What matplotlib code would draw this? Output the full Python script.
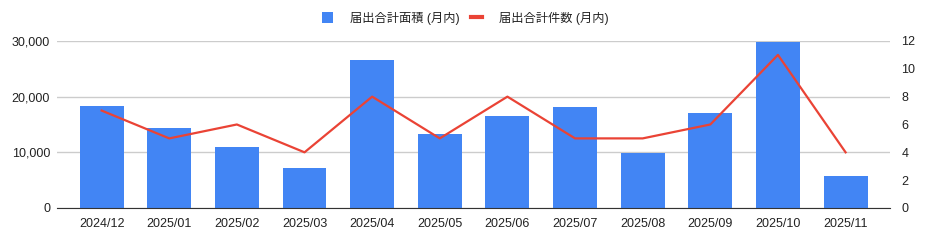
import matplotlib.pyplot as plt
from matplotlib.patches import Patch
from matplotlib.lines import Line2D
from matplotlib.ticker import FuncFormatter

# データ
months = ["2024/12", "2025/01", "2025/02", "2025/03", "2025/04", "2025/05",
          "2025/06", "2025/07", "2025/08", "2025/09", "2025/10", "2025/11"]
area = [18300, 14400, 11000, 7250, 26600, 13300, 16550, 18150, 9900, 17050, 29800, 5750]
count = [7, 5, 6, 4, 8, 5, 8, 5, 5, 6, 11, 4]

bar_label = "届出合計面積 (月内)"
line_label = "届出合計件数 (月内)"

blue = "#4285F4"
red = "#EA4335"

plt.rcParams['font.family'] = ['Liberation Sans', 'Noto Sans CJK JP', 'DejaVu Sans']

fig = plt.figure(figsize=(9.31, 2.41), dpi=100)
ax = fig.add_axes([0.0612, 0.137, 0.895, 0.693])
ax2 = ax.twinx()

x = list(range(len(months)))
ax.bar(x, area, width=0.65, color=blue, zorder=2)
ax2.plot(x, count, color=red, linewidth=1.6, zorder=3)

ax.set_xlim(-0.66, len(months) - 1 + 0.66)
ax.set_ylim(0, 30000)
ax2.set_ylim(0, 12)
ax.set_yticks([0, 10000, 20000, 30000])
ax2.set_yticks(range(0, 13, 2))
ax.yaxis.set_major_formatter(FuncFormatter(lambda v, p: f"{int(v):,}"))

ax.set_xticks(x)
ax.set_xticklabels(months)

ax.grid(axis='y', color='#cccccc', linewidth=1, zorder=0)
ax.set_axisbelow(True)

for a in (ax, ax2):
    for s in a.spines.values():
        s.set_visible(False)
    a.tick_params(length=0, labelsize=9, colors='#222222')
ax.spines['bottom'].set_visible(True)
ax.spines['bottom'].set_color('#333333')
ax.spines['bottom'].set_zorder(4)
ax.tick_params(axis='y', pad=5)
ax.tick_params(axis='x', pad=7)
ax2.tick_params(axis='y', pad=8)

handles = [Patch(facecolor=blue, edgecolor='none'),
           Line2D([0], [0], color=red, linewidth=3)]
fig.legend(handles, [bar_label, line_label], loc='center', bbox_to_anchor=(0.5, 0.925),
           ncol=2, frameon=False, fontsize=8.8, handlelength=0.9, handleheight=1.0,
           columnspacing=0.9, handletextpad=1.4, labelcolor='#222222')

fig.savefig("out.png", dpi=100)
